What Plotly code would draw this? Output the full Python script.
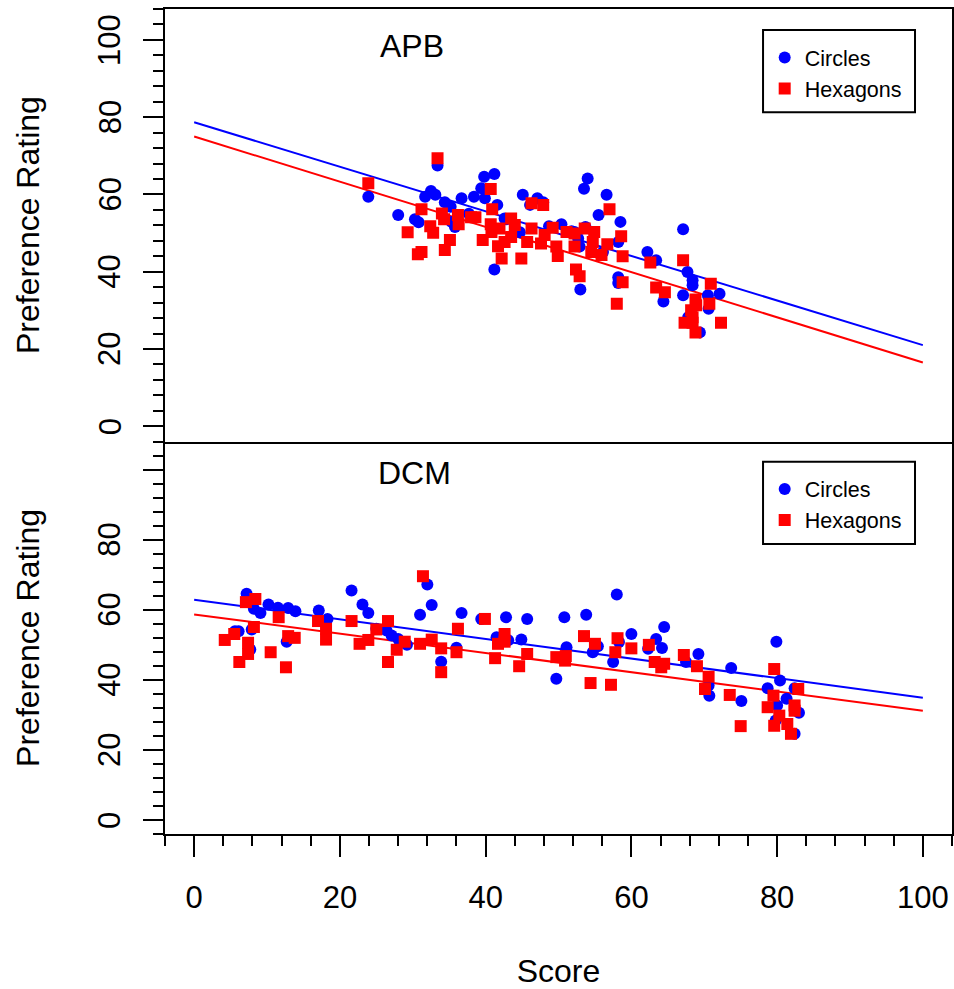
import plotly.graph_objects as go
from plotly.subplots import make_subplots

# ---- data ----
# APB panel
apb_circ_x = [23.9, 33.4, 32.5, 31.7, 33.1, 28.0, 30.3, 30.8, 34.4, 36.7, 35.2, 35.3, 35.8,
              39.8, 41.2, 39.4, 38.4, 39.9, 41.6, 42.8, 41.2, 45.1, 46.1, 47.1, 47.9, 44.0,
              48.7, 50.4, 51.8, 52.2, 52.7, 52.9, 54.0, 53.5, 53.7, 56.6, 55.5, 58.5, 58.2,
              56.1, 58.2, 58.2, 53.0, 62.2, 63.4, 64.4, 67.1, 67.1, 67.7, 68.4, 68.4, 70.5,
              72.1, 70.6, 69.4, 67.8, 42.6, 44.7, 37.7]
apb_circ_y = [59.4, 67.5, 60.9, 59.4, 59.9, 54.7, 53.6, 52.8, 58.0, 59.0, 56.8, 52.9, 51.6,
              64.6, 65.3, 61.6, 59.4, 59.0, 57.3, 53.6, 40.6, 59.9, 57.3, 59.0, 58.0, 50.3,
              51.8, 52.3, 50.5, 50.3, 48.6, 46.5, 64.1, 61.5, 51.6, 59.9, 54.7, 52.9, 47.7,
              45.1, 38.6, 37.1, 35.4, 45.1, 43.0, 32.3, 51.0, 33.9, 39.9, 37.8, 36.5, 33.9,
              34.3, 30.4, 24.3, 28.2, 53.8, 50.2, 55.0]
apb_hex_x = [33.4, 23.9, 31.2, 34.0, 34.3, 36.2, 36.3, 38.0, 38.6, 32.4, 32.8, 29.3, 35.1,
             34.4, 30.7, 31.2, 40.7, 40.9, 40.7, 40.8, 39.6, 41.9, 43.5, 44.0, 43.5, 42.6,
             41.7, 42.2, 44.9, 46.3, 47.9, 46.3, 45.7, 47.6, 49.2, 51.1, 52.2, 48.1, 49.7,
             49.9, 53.6, 54.9, 54.7, 54.5, 52.2, 55.9, 52.4, 52.9, 57.0, 58.6, 56.7, 58.8,
             58.8, 58.0, 62.6, 63.4, 64.6, 67.1, 70.9, 70.7, 68.8, 68.9, 68.2, 68.4, 67.3,
             68.4, 68.8, 72.3]
apb_hex_y = [69.4, 62.9, 56.2, 55.1, 53.6, 54.7, 52.3, 54.1, 54.1, 51.8, 50.1, 50.2, 48.2,
             45.6, 44.5, 45.1, 61.4, 56.2, 52.3, 50.3, 48.2, 51.2, 53.8, 52.1, 49.0, 47.7,
             46.6, 43.4, 43.4, 57.7, 57.3, 51.2, 47.7, 47.3, 51.4, 50.3, 49.9, 49.5, 46.5,
             44.1, 51.2, 50.3, 47.7, 45.1, 46.5, 44.3, 40.6, 38.8, 56.2, 49.2, 47.1, 44.0,
             37.3, 31.7, 42.4, 35.9, 34.7, 43.0, 36.9, 31.7, 32.8, 31.3, 30.0, 28.2, 26.8,
             26.8, 24.3, 26.8]

# DCM panel
dcm_circ_x = [7.2, 8.2, 9.1, 10.2, 11.5, 12.9, 13.9, 5.6, 6.1, 7.9, 7.7, 12.7, 17.1, 18.3,
              21.6, 23.1, 23.9, 25.0, 26.4, 27.1, 28.0, 29.2, 31.0, 32.0, 32.6, 33.9, 36.0,
              36.7, 39.4, 41.5, 41.7, 42.8, 44.9, 45.7, 49.7, 50.8, 51.1, 53.8, 54.7, 55.4,
              58.0, 57.5, 58.3, 60.0, 64.5, 63.4, 64.2, 62.3, 67.5, 69.2, 73.7, 75.1, 70.6,
              70.7, 79.9, 80.4, 78.7, 80.0, 81.3, 82.4, 83.0, 79.8, 82.4, 43.1]
dcm_circ_y = [64.6, 60.3, 59.1, 61.5, 60.6, 60.5, 59.6, 53.9, 53.9, 54.4, 48.7, 50.9, 59.8,
              57.4, 65.5, 61.5, 59.1, 54.6, 54.1, 52.7, 51.7, 50.0, 58.6, 67.2, 61.4, 45.2,
              49.2, 59.1, 57.4, 52.2, 50.8, 57.9, 51.5, 57.4, 40.3, 57.9, 49.3, 58.6, 47.9,
              49.6, 64.4, 45.1, 50.8, 53.1, 55.1, 51.7, 49.1, 48.9, 45.1, 47.4, 43.4, 34.0,
              38.4, 35.5, 50.9, 39.8, 37.6, 32.7, 34.6, 37.6, 30.6, 28.4, 24.6, 51.3]
dcm_hex_x = [4.2, 5.5, 7.1, 8.4, 8.2, 7.4, 7.4, 6.2, 11.6, 10.5, 12.9, 13.8, 12.6, 17.0,
             18.1, 18.1, 21.6, 22.7, 23.9, 25.0, 26.6, 26.6, 27.8, 28.9, 31.0, 31.4, 32.6,
             33.9, 33.9, 36.0, 36.2, 39.9, 41.3, 41.7, 42.6, 42.6, 44.6, 45.7, 49.7, 51.0,
             50.9, 53.5, 55.0, 54.4, 57.2, 58.1, 57.8, 60.0, 62.4, 63.2, 64.1, 64.5, 67.2,
             69.0, 70.6, 70.1, 73.5, 75.0, 79.6, 79.5, 78.7, 80.3, 79.6, 81.4, 81.9, 82.4,
             82.4, 82.9]
dcm_hex_y = [51.4, 53.1, 62.2, 63.1, 55.1, 50.6, 47.4, 45.1, 57.9, 47.9, 52.5, 52.0, 43.6,
             56.8, 54.6, 51.5, 56.8, 50.3, 51.4, 54.4, 56.8, 45.1, 48.6, 50.9, 50.3, 69.6,
             51.5, 49.0, 42.2, 47.9, 54.6, 57.4, 46.2, 50.3, 53.1, 50.9, 43.9, 47.4, 46.5,
             46.8, 45.5, 52.5, 50.3, 39.1, 38.6, 51.9, 47.9, 49.0, 50.0, 45.1, 43.6, 44.6,
             47.1, 43.9, 40.9, 37.4, 35.7, 26.8, 43.1, 35.5, 32.2, 29.8, 26.9, 27.4, 24.6,
             32.7, 31.2, 37.4]

# regression lines
fit_x = [0, 100]
apb_circ_fit = [78.7, 21.0]
apb_hex_fit = [75.0, 16.5]
dcm_circ_fit = [62.9, 34.9]
dcm_hex_fit = [58.7, 31.2]

y_ticks = [0, 20, 40, 60, 80, 100]
apb_tick_text = ["0", "20", "40", "60", "80", "100"]
dcm_tick_text = ["0", "20", "40", "60", "80", ""]
x_ticks = [0, 20, 40, 60, 80, 100]

FONT = "Arial, Liberation Sans, sans-serif"
BLUE = "#0000ff"
RED = "#ff0000"

fig = make_subplots(rows=2, cols=1, shared_xaxes=True,
                    vertical_spacing=0, row_heights=[0.5245, 0.4755])

panels = [
    (1, apb_circ_x, apb_circ_y, apb_hex_x, apb_hex_y, apb_circ_fit, apb_hex_fit, "legend"),
    (2, dcm_circ_x, dcm_circ_y, dcm_hex_x, dcm_hex_y, dcm_circ_fit, dcm_hex_fit, "legend2"),
]
for row, cx, cy, hx, hy, cfit, hfit, leg in panels:
    fig.add_trace(go.Scatter(x=fit_x, y=cfit, mode="lines", line=dict(color=BLUE, width=2),
                             showlegend=False, hoverinfo="skip"), row=row, col=1)
    fig.add_trace(go.Scatter(x=fit_x, y=hfit, mode="lines", line=dict(color=RED, width=2),
                             showlegend=False, hoverinfo="skip"), row=row, col=1)
    fig.add_trace(go.Scatter(x=cx, y=cy, mode="markers", name="Circles", legend=leg,
                             marker=dict(symbol="circle", size=12, color=BLUE, line_width=0)),
                  row=row, col=1)
    fig.add_trace(go.Scatter(x=hx, y=hy, mode="markers", name="Hexagons", legend=leg,
                             marker=dict(symbol="square", size=12, color=RED, line_width=0)),
                  row=row, col=1)

line_style = dict(showline=True, linecolor="black", linewidth=2,
                  showgrid=False, zeroline=False, automargin=False)

# top panel x axis: frame lines only (top edge and the separator)
fig.update_xaxes(range=[-4, 104], mirror=True, showticklabels=False, ticks="",
                 row=1, col=1, **line_style)
# bottom panel x axis: bottom edge with ticks
fig.update_xaxes(range=[-4, 104], mirror=False, tickvals=x_ticks, ticks="outside",
                 ticklen=21, tickwidth=2, tickcolor="black",
                 minor=dict(dtick=4, tick0=0, ticks="outside", ticklen=10, tickwidth=2,
                            tickcolor="black"),
                 tickfont=dict(family=FONT, size=31, color="black"), ticklabelstandoff=14,
                 title=dict(text="Score", font=dict(family=FONT, size=32, color="black"),
                            standoff=48),
                 row=2, col=1, **line_style)

# y axes: ticks from the axis; the rotated labels and titles are placed as text below
fig.update_yaxes(range=[-4, 108], tickvals=y_ticks, showticklabels=False,
                 mirror=True, ticks="outside", ticklen=20, tickwidth=2, tickcolor="black",
                 minor=dict(dtick=4, tick0=0, ticks="outside", ticklen=10, tickwidth=2,
                            tickcolor="black"),
                 **line_style)

annotations = [
    dict(text="APB", x=0.314, y=0.9552, xref="paper", yref="paper", showarrow=False,
         xanchor="center", yanchor="middle", font=dict(family=FONT, size=32, color="black")),
    dict(text="DCM", x=0.317, y=0.4372, xref="paper", yref="paper", showarrow=False,
         xanchor="center", yanchor="middle", font=dict(family=FONT, size=32, color="black")),
]
for yref, ttext, title_y in [("y", apb_tick_text, 0.7382), ("y2", dcm_tick_text, 0.2378)]:
    for val, txt in zip(y_ticks, ttext):
        if txt:
            annotations.append(dict(text=txt, x=-0.0699, y=val, xref="paper", yref=yref,
                                    showarrow=False, textangle=-90, xanchor="center",
                                    yanchor="middle",
                                    font=dict(family=FONT, size=31, color="black")))
    annotations.append(dict(text="Preference Rating", x=-0.174, y=title_y, xref="paper",
                            yref="paper", showarrow=False, textangle=-90, xanchor="center",
                            yanchor="middle", font=dict(family=FONT, size=32, color="black")))

legend_style = dict(font=dict(family=FONT, size=21.5, color="black"), bgcolor="rgba(0,0,0,0)",
                    borderwidth=0, xanchor="left", yanchor="top", itemsizing="constant",
                    tracegroupgap=0)

fig.update_layout(
    width=954, height=989,
    margin=dict(l=165, r=2, t=9, b=155),
    paper_bgcolor="white", plot_bgcolor="white",
    font=dict(family=FONT, color="black"),
    legend=dict(x=0.762, y=0.966, **legend_style),
    legend2=dict(x=0.762, y=0.443, **legend_style),
    annotations=annotations,
    shapes=[
        dict(type="rect", xref="paper", yref="paper", x0=0.7599, x1=0.953, y0=0.8748,
             y1=0.97455, line=dict(color="black", width=2)),
        dict(type="rect", xref="paper", yref="paper", x0=0.7599, x1=0.953, y0=0.3515,
             y1=0.4513, line=dict(color="black", width=2)),
    ],
)

# the page's default 8px body margin would push the fixed-size figure off the window
fig.write_html("out.html", config={"displayModeBar": False},
               post_script="document.body.style.margin='0';document.body.style.overflow='hidden';")
